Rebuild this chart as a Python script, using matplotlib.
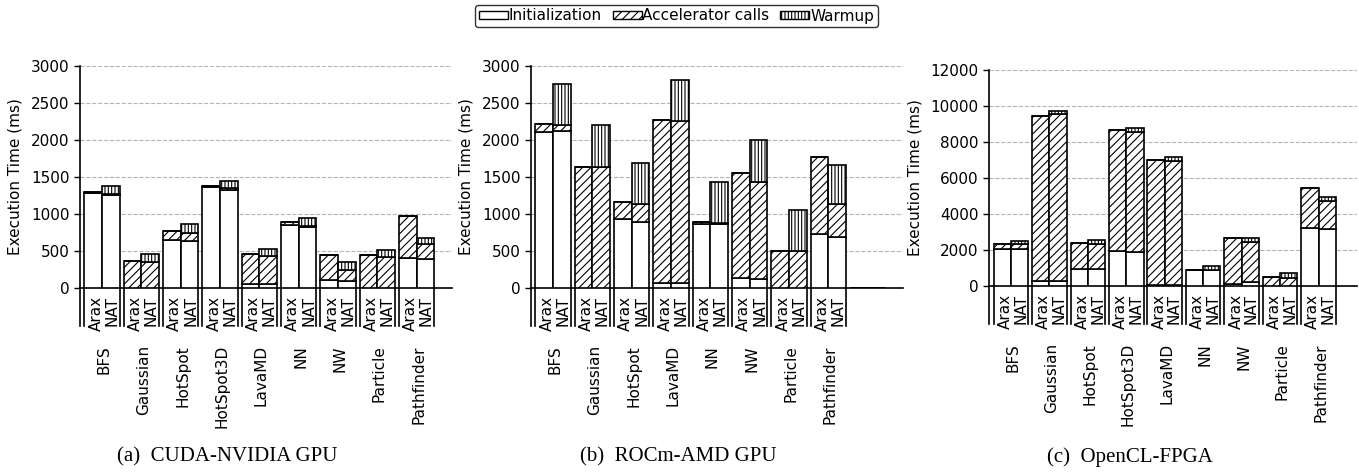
import matplotlib
matplotlib.use('Agg')
import matplotlib.pyplot as plt
from matplotlib.patches import Patch
from matplotlib.transforms import offset_copy

# ---------------- data ----------------
bench_cuda = ['BFS', 'Gaussian', 'HotSpot', 'HotSpot3D', 'LavaMD', 'NN', 'NW', 'Particle', 'Pathfinder']
cuda_arax_init = [1280, 5, 649, 1360, 50, 850, 105, 5, 400]
cuda_arax_accel = [20, 365, 121, 18, 410, 47, 346, 436, 578]
cuda_arax_warm = [0, 0, 0, 0, 0, 0, 0, 0, 0]
cuda_nat_init = [1255, 5, 635, 1320, 48, 830, 92, 5, 392]
cuda_nat_accel = [15, 346, 113, 27, 380, 10, 150, 409, 198]
cuda_nat_warm = [108, 110, 112, 94, 95, 102, 108, 100, 86]

bench_rocm = ['BFS', 'Gaussian', 'HotSpot', 'LavaMD', 'NN', 'NW', 'Particle', 'Pathfinder', '']
rocm_arax_init = [2113, 5, 933, 72, 870, 140, 5, 725, 0]
rocm_arax_accel = [99, 1635, 234, 2203, 27, 1414, 495, 1050, 0]
rocm_arax_warm = [0, 0, 0, 0, 0, 0, 0, 0, 0]
rocm_nat_init = [2126, 5, 897, 70, 860, 126, 5, 694, 0]
rocm_nat_accel = [81, 1635, 234, 2191, 23, 1311, 500, 446, 0]
rocm_nat_warm = [550, 558, 554, 550, 545, 559, 549, 527, 0]

bench_fpga = ['BFS', 'Gaussian', 'HotSpot', 'HotSpot3D', 'LavaMD', 'NN', 'NW', 'Particle', 'Pathfinder']
fpga_arax_init = [2056, 278, 926, 1926, 56, 880, 130, 20, 3204]
fpga_arax_accel = [259, 9186, 1444, 6723, 6926, 27, 2555, 480, 2259]
fpga_arax_warm = [0, 0, 0, 0, 0, 0, 0, 0, 0]
fpga_nat_init = [2074, 296, 963, 1870, 56, 870, 204, 20, 3167]
fpga_nat_accel = [241, 9242, 1371, 6705, 6908, 19, 2241, 443, 1574]
fpga_nat_warm = [204, 185, 222, 203, 203, 241, 222, 241, 222]

systems = ['Arax', 'NAT']
components = ['Initialization', 'Accelerator calls', 'Warmup']
captions = ['(a)  CUDA-NVIDIA GPU', '(b)  ROCm-AMD GPU', '(c)  OpenCL-FPGA']

# ---------------- style ----------------
plt.rcParams['font.family'] = ['DejaVu Sans']
plt.rcParams['hatch.linewidth'] = 0.8
HATCHES = ['', '////', '|||||']
FS = 11
LW = 1.2

W, H = 1359, 474
fig = plt.figure(figsize=(W / 100, H / 100), dpi=100)


def add_axes_px(left, top, right, bottom):
    return fig.add_axes([left / W, 1 - bottom / H, (right - left) / W, (bottom - top) / H])


panels = [
    dict(ax=add_axes_px(80, 66, 452, 288), names=bench_cuda,
         arax=[cuda_arax_init, cuda_arax_accel, cuda_arax_warm],
         nat=[cuda_nat_init, cuda_nat_accel, cuda_nat_warm],
         ymax=3000, step=500, xlim=(-0.56, 8.9), cap_x=227),
    dict(ax=add_axes_px(531, 66, 903, 288), names=bench_rocm,
         arax=[rocm_arax_init, rocm_arax_accel, rocm_arax_warm],
         nat=[rocm_nat_init, rocm_nat_accel, rocm_nat_warm],
         ymax=3000, step=500, xlim=(-0.56, 8.9), cap_x=678),
    dict(ax=add_axes_px(989, 70, 1357, 286), names=bench_fpga,
         arax=[fpga_arax_init, fpga_arax_accel, fpga_arax_warm],
         nat=[fpga_nat_init, fpga_nat_accel, fpga_nat_warm],
         ymax=12000, step=2000, xlim=(-0.57, 9.0), cap_x=1130),
]

BW = 0.45
for p, cap in zip(panels, captions):
    ax = p['ax']
    n = len(p['names'])
    xs = list(range(n))
    for sys_i, series in enumerate([p['arax'], p['nat']]):
        pos = [x + (sys_i - 0.5) * BW for x in xs]
        bottom = [0] * n
        for comp_i, vals in enumerate(series):
            ax.bar(pos, vals, width=BW, bottom=bottom, color='white',
                   edgecolor='black', linewidth=LW, hatch=HATCHES[comp_i], zorder=3)
            bottom = [b + v for b, v in zip(bottom, vals)]

    ax.set_xlim(*p['xlim'])
    ax.set_ylim(0, p['ymax'])
    ax.set_yticks(range(0, p['ymax'] + 1, p['step']))
    ax.tick_params(axis='y', labelsize=FS, length=4, width=1)
    ax.set_xticks([])
    ax.set_ylabel('Execution Time (ms)', fontsize=FS, labelpad=6)
    ax.grid(axis='y', linestyle='--', color='#b5b5b5', linewidth=0.8)
    ax.set_axisbelow(True)
    for s in ['top', 'right']:
        ax.spines[s].set_visible(False)
    for s in ['left', 'bottom']:
        ax.spines[s].set_linewidth(LW)
        ax.spines[s].set_color('black')

    # label area below axis
    hpx = ax.get_position().height * H
    tr = ax.get_xaxis_transform()
    tr_txt = offset_copy(tr, fig=fig, x=2, y=0, units='dots')
    depth = -38 / hpx
    ax.plot([p['xlim'][0]] * 2, [0, depth], color='black', lw=LW,
            transform=tr, clip_on=False)
    for x, name in zip(xs, p['names']):
        if not name:
            continue
        for e in (x - BW, x + BW):
            ax.plot([e, e], [0, depth], color='black', lw=LW,
                    transform=tr, clip_on=False)
        for sys_i, sname in enumerate(systems):
            ax.text(x + (sys_i - 0.5) * 0.4, -8 / hpx, sname, rotation=90,
                    ha='center', va='top', fontsize=FS, transform=tr_txt)
        ax.text(x, -57 / hpx, name, rotation=90, ha='center', va='top',
                fontsize=FS, transform=tr_txt)

    fig.text(p['cap_x'] / W, 1 - 457 / H, cap,
             ha='center', va='center', fontsize=15,
             family=['Liberation Serif', 'DejaVu Serif'])

handles = [Patch(facecolor='white', edgecolor='black', hatch=h, linewidth=1.0) for h in HATCHES]
leg = fig.legend(handles, components, loc='center', bbox_to_anchor=(676.5 / W, 1 - 16 / H),
                 ncol=3, fontsize=FS, frameon=True, handlelength=1.9, handleheight=0.45,
                 handletextpad=0.05, columnspacing=0.7, borderpad=0.25, fancybox=True)
leg.get_frame().set_edgecolor('black')
leg.get_frame().set_linewidth(1.0)

fig.savefig('out.png', dpi=100)
